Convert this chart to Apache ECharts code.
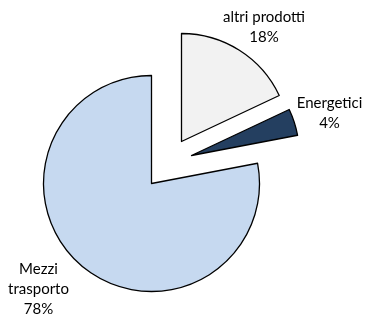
<!DOCTYPE html>
<html>
<head>
<meta charset="utf-8">
<script src="https://cdn.jsdelivr.net/npm/echarts@6/dist/echarts.min.js"></script>
<style>
  html, body { margin: 0; padding: 0; background: #fff; }
  #chart { width: 366px; height: 314px; }
</style>
</head>
<body>
<div id="chart"></div>
<script>
// share of each product group (%), clockwise from 12 o'clock
const categories = ['altri prodotti', 'Energetici', 'Mezzi trasporto'];
const labelText = ['altri prodotti', 'Energetici', 'Mezzi\ntrasporto'];
const values = [18, 4, 78];
const colors = ['#f2f2f2', '#243f60', '#c6d9f0'];

// layout: pie centre, how far each slice is pulled out, where its label sits
const pieCenter = [151.5, 183.5];
const pieRadius = 108;
const explode = [[30, -42], [40, -28], [0, 0]];
const labelPos = [[264, 27.5], [329.5, 113.5], [38.5, 289]];

const chart = echarts.init(document.getElementById('chart'));

// one pie per slice so each exploded slice can have its own offset;
// all pies share the same data, only slice k is painted in pie k
const series = categories.map((_, k) => ({
    type: 'pie',
    silent: true,
    center: [pieCenter[0] + explode[k][0], pieCenter[1] + explode[k][1]],
    radius: pieRadius,
    startAngle: 90,
    clockwise: true,
    label: {
        position: 'outside',
        overflow: 'none',
        fontFamily: 'Lato',
        fontSize: 15,
        lineHeight: 20,
        align: 'center',
        color: '#000',
        formatter: (p) => labelText[p.dataIndex] + '\n' + p.value + '%'
    },
    labelLine: { show: false },
    labelLayout: (params) => ({
        x: labelPos[params.dataIndex][0],
        y: labelPos[params.dataIndex][1],
        align: 'center',
        verticalAlign: 'middle'
    }),
    data: categories.map((c, i) => ({
        name: c,
        value: values[i],
        itemStyle: i === k
            ? { color: colors[i], borderColor: '#000', borderWidth: 1.3 }
            : { color: 'transparent', borderWidth: 0 },
        label: { show: i === k }
    }))
}));

chart.setOption({ animation: false, series: series });
</script>
</body>
</html>
